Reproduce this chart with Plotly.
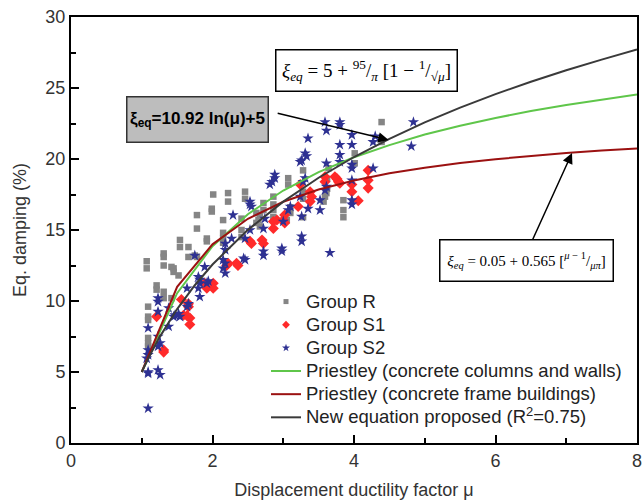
import plotly.graph_objects as go

# ---------------- data ----------------
r_x = [1.07, 1.07, 1.09, 1.09, 1.09, 1.09, 1.09, 1.09, 1.21, 1.21, 1.31, 1.31, 1.31, 1.31, 1.31,
       1.42, 1.42, 1.45, 1.45, 1.52, 1.54, 1.54, 1.66, 1.66, 1.75, 1.78, 1.78, 1.78,
       1.92, 1.92, 1.99, 1.99, 2.01, 2.15, 2.15, 2.15, 2.15, 2.22, 2.22,
       2.41, 2.41, 2.41, 2.46, 2.46, 2.62, 2.62, 2.67, 2.65, 2.67, 2.72, 2.72,
       2.86, 2.86, 2.86, 2.86, 3.07, 3.07, 3.10, 3.10, 3.05,
       3.28, 3.28, 3.28, 3.28, 3.64, 3.62, 3.62, 3.61, 3.59, 3.57,
       3.85, 3.85, 3.85, 4.01, 4.01, 4.39, 4.39]
r_y = [12.8, 12.3, 9.6, 8.9, 8.66, 7.4, 7.03, 6.8, 11.1, 10.8, 13.35, 13.1, 12.5, 10.65, 10.2,
       12.4, 10.2, 12.3, 12.05, 11.8, 14.3, 13.8, 13.8, 13.1, 13.2, 13.1, 15.1, 16.05,
       14.4, 14.2, 16.5, 16.3, 17.5, 15.7, 14.8, 14.4, 14.1, 17.6, 17.0,
       15.8, 15.0, 14.5, 17.7, 17.2, 16.2, 15.5, 16.05, 15.7, 15.25, 16.9, 16.4,
       17.35, 16.8, 16.4, 15.9, 18.65, 18.2, 16.6, 16.2, 15.7,
       19.2, 17.7, 17.2, 15.9, 19.35, 18.6, 17.9, 17.6, 17.35, 17.0,
       17.1, 16.4, 15.9, 20.4, 19.7, 22.6, 21.2]

s1_x = [1.21, 1.31, 1.31, 1.56, 1.59, 1.64, 1.66, 1.66, 1.68, 1.68,
        1.89, 1.92, 2.01, 2.01, 2.22, 2.20, 2.36, 2.34,
        2.53, 2.55, 2.70, 2.72, 2.86, 2.86, 2.91,
        3.02, 3.00, 3.02, 3.21, 3.24, 3.38, 3.40, 3.38,
        3.59, 3.59, 3.76, 3.78, 3.80, 3.73,
        3.97, 3.97, 4.06, 4.20, 4.20, 4.20]
s1_y = [8.9, 6.55, 6.4, 10.1, 9.0, 8.96, 9.8, 9.6, 8.8, 8.35,
        11.25, 10.9, 11.25, 10.9, 12.65, 12.5, 12.5, 12.65,
        14.2, 14.05, 14.3, 14.05, 15.6, 15.1, 15.7,
        16.05, 15.7, 15.5, 16.65, 18.2, 17.7, 17.35, 17.0,
        18.75, 18.4, 18.6, 18.4, 18.3, 18.75,
        18.2, 17.7, 17.06, 19.2, 18.5, 17.95]

s2_x = [1.09, 1.09, 1.09, 1.07, 1.09, 1.09, 1.09,
        1.23, 1.23, 1.23, 1.23, 1.26, 1.23, 1.23, 1.26,
        1.38, 1.38, 1.45, 1.47, 1.52, 1.54,
        1.64, 1.66, 1.64, 1.75, 1.80, 1.82, 1.82, 1.80, 1.82,
        1.89, 1.92, 1.94, 2.15, 2.18, 2.15, 2.18,
        2.18, 2.18, 2.27, 2.29, 2.44, 2.46, 2.46,
        2.53, 2.53, 2.55, 2.53, 2.72, 2.74, 2.72, 2.72,
        2.88, 2.88, 2.84, 2.81, 2.98, 2.98, 3.00, 3.10, 3.07,
        3.24, 3.26, 3.31, 3.33, 3.35, 3.31, 3.28, 3.24, 3.35, 3.26, 3.26, 3.26,
        3.52, 3.52, 3.59, 3.61, 3.61, 3.61, 3.59, 3.66,
        3.80, 3.80, 3.80, 3.80, 3.80,
        3.97, 3.97, 3.97, 3.97, 3.97, 3.97, 3.97,
        4.30, 4.27, 4.27, 4.84, 4.81]
s2_y = [2.44, 4.9, 5.0, 5.96, 6.2, 6.55, 8.1,
        10.2, 9.95, 9.25, 7.5, 7.03, 6.8, 5.14, 4.8,
        9.5, 8.2, 8.9, 9.0, 9.1, 8.9,
        10.9, 9.8, 9.6, 13.2, 11.7, 11.5, 11.25, 10.9, 10.3,
        12.4, 11.25, 11.4, 12.3, 11.95, 12.9, 12.65,
        14.05, 13.6, 14.4, 16.05, 13.0, 12.9, 14.4,
        17.0, 16.8, 16.65, 15.0, 15.1, 15.8, 13.5, 13.2,
        18.9, 18.65, 18.4, 18.2, 13.7, 13.5, 15.6, 16.65, 16.4,
        19.8, 19.9, 20.4, 20.2, 21.45, 18.65, 18.4, 17.35, 16.5, 15.95, 14.55, 14.2,
        17.1, 16.4, 22.6, 22.0, 19.7, 18.05, 17.8, 13.4,
        22.6, 22.4, 21.0, 20.3, 19.8,
        21.7, 21.0, 19.6, 19.35, 18.5, 17.1, 16.8,
        21.6, 21.2, 19.35, 22.6, 20.9]

# model curves (values read along the drawn polylines)
pw_mu = [1, 1.5, 2, 2.5, 3, 3.5, 4, 4.5, 5, 5.5, 6, 6.5, 7, 7.5, 8]
pw_xi = [5, 10.55, 13.86, 16.11, 17.78, 19.08, 20.12, 20.98, 21.72, 22.34, 22.89, 23.38, 23.81, 24.20, 24.55]
pf_xi = [5, 11.0, 13.99, 15.79, 16.99, 17.85, 18.49, 18.99, 19.39, 19.72, 19.99, 20.22, 20.42, 20.59, 20.74]
new_mu = [1, 1.1, 1.25, 1.5, 1.75, 2, 2.5, 3, 3.5, 4, 4.5, 5, 5.5, 6, 6.5, 7, 7.5, 8]
new_xi = [5, 6.04, 7.44, 9.43, 11.11, 12.57, 15.01, 17.00, 18.68, 20.14, 21.42, 22.58, 23.62, 24.57, 25.44, 26.25, 27.00, 27.71]

x_ticks = [0, 2, 4, 6, 8]
y_ticks = [0, 5, 10, 15, 20, 25, 30]

names = ["Group R", "Group S1", "Group S2",
         "Priestley (concrete columns and walls)",
         "Priestley (concrete frame buildings)",
         "New equation proposed (R<sup>2</sup>=0.75)"]

FONT = "Liberation Sans, Arial, sans-serif"
SERIF = "Liberation Serif, Times New Roman, serif"
C_R, C_S1, C_S2 = "#858585", "#ff2a2a", "#2e3192"
C_G, C_RED, C_K = "#5fc64a", "#9b1111", "#3a3a3a"


def lg(name):
    return '<span style="font-size:18.5px">' + name + '</span>'


fig = go.Figure()
# data marks
fig.add_trace(go.Scatter(x=r_x, y=r_y, mode="markers", showlegend=False,
                         marker=dict(symbol="square", size=6.5, color=C_R)))
fig.add_trace(go.Scatter(x=s1_x, y=s1_y, mode="markers", showlegend=False,
                         marker=dict(symbol="diamond", size=8.5, color=C_S1)))
fig.add_trace(go.Scatter(x=s2_x, y=s2_y, mode="markers", showlegend=False,
                         marker=dict(symbol="star", size=8.5, color=C_S2)))
fig.add_trace(go.Scatter(x=pw_mu, y=pw_xi, mode="lines", showlegend=False,
                         line=dict(color=C_G, width=2)))
fig.add_trace(go.Scatter(x=pw_mu, y=pf_xi, mode="lines", showlegend=False,
                         line=dict(color=C_RED, width=2)))
fig.add_trace(go.Scatter(x=new_mu, y=new_xi, mode="lines", showlegend=False,
                         line=dict(color=C_K, width=2)))
# legend entries (small symbols like the reference legend)
fig.add_trace(go.Scatter(x=[None], y=[None], mode="markers", name=lg(names[0]),
                         marker=dict(symbol="square", size=5, color=C_R)))
fig.add_trace(go.Scatter(x=[None], y=[None], mode="markers", name=lg(names[1]),
                         marker=dict(symbol="diamond", size=6, color=C_S1)))
fig.add_trace(go.Scatter(x=[None], y=[None], mode="markers", name=lg(names[2]),
                         marker=dict(symbol="star", size=6, color=C_S2)))
fig.add_trace(go.Scatter(x=[None], y=[None], mode="lines", name=lg(names[3]),
                         line=dict(color=C_G, width=2)))
fig.add_trace(go.Scatter(x=[None], y=[None], mode="lines", name=lg(names[4]),
                         line=dict(color=C_RED, width=2)))
fig.add_trace(go.Scatter(x=[None], y=[None], mode="lines", name=lg(names[5]),
                         line=dict(color=C_K, width=2)))

axis_common = dict(showline=True, linecolor="black", linewidth=2, mirror=True,
                   ticks="inside", ticklen=8, tickwidth=2, tickcolor="black",
                   showgrid=False, zeroline=False, automargin=False,
                   tickfont=dict(family=FONT, size=18, color="#333333"))

fig.update_xaxes(range=[0, 8], tickvals=x_ticks, **axis_common,
                 minor=dict(ticks="inside", dtick=1, ticklen=5, tickwidth=2, tickcolor="black"),
                 title=dict(text="Displacement ductility factor μ", font=dict(family=FONT, size=18, color="#333333"),
                            standoff=14))
fig.update_yaxes(range=[0, 30], tickvals=y_ticks, **axis_common,
                 minor=dict(ticks="inside", dtick=2.5, ticklen=5, tickwidth=2, tickcolor="black"),
                 title=dict(text="Eq. damping (%)", font=dict(family=FONT, size=18, color="#333333"),
                            standoff=14))

fig.update_layout(
    width=643, height=500,
    margin=dict(l=71, r=6, t=17, b=57),
    paper_bgcolor="white", plot_bgcolor="white",
    showlegend=True,
    legend=dict(x=(266 - 71) / 566, y=(443 - 285) / 426, xanchor="left", yanchor="top",
                bgcolor="rgba(0,0,0,0)", borderwidth=0,
                font=dict(family=FONT, size=15.5, color="#222222"),
                tracegroupgap=0, itemwidth=30),
)

# grey box with proposed equation
fig.add_annotation(x=(197 - 71) / 566, y=(443 - 119) / 426, xref="paper", yref="paper",
                   xanchor="center", yanchor="middle",
                   text="<b>ξ<sub>eq</sub>=10.92 ln(μ)+5</b>", showarrow=False,
                   font=dict(family=FONT, size=17, color="black"),
                   bgcolor="#bdbdbd", bordercolor="#333333", borderwidth=1.5,
                   width=136, height=40, borderpad=2)
fig.add_annotation(x=4.49, y=21.34, ax=2.9, ay=23.25, xref="x", yref="y", axref="x", ayref="y",
                   text="", showarrow=True, arrowhead=2, arrowsize=1.4, arrowwidth=1.5, arrowcolor="black")

# Priestley columns/walls formula box
fig.add_annotation(x=(366 - 71) / 566, y=(443 - 70) / 426, xref="paper", yref="paper",
                   xanchor="center", yanchor="middle",
                   text="<i>ξ<sub>eq</sub></i> = 5 + <sup>95</sup>/<sub><i>π</i></sub> [1 − <sup>1</sup>/<sub>√<i>μ</i></sub>]",
                   showarrow=False,
                   font=dict(family=SERIF, size=19, color="black"),
                   bgcolor="white", bordercolor="black", borderwidth=1.5,
                   width=176, height=36, borderpad=2)

# Priestley frame formula box
fig.add_annotation(x=(526 - 71) / 566, y=(443 - 260) / 426, xref="paper", yref="paper",
                   xanchor="center", yanchor="middle",
                   text="<i>ξ<sub>eq</sub></i> = 0.05 + 0.565 [<sup><i>μ</i> − 1</sup>/<sub><i>μπ</i></sub>]",
                   showarrow=False,
                   font=dict(family=SERIF, size=15, color="black"),
                   bgcolor="white", bordercolor="black", borderwidth=1.5,
                   width=168, height=36, borderpad=2)
fig.add_annotation(x=(572 - 71) / 70.75, y=(443 - 153) / 14.2, ax=(532 - 71) / 70.75, ay=(443 - 241) / 14.2,
                   xref="x", yref="y", axref="x", ayref="y",
                   text="", showarrow=True, arrowhead=2, arrowsize=1.4, arrowwidth=1.5, arrowcolor="black")

fig.write_html("out.html")
